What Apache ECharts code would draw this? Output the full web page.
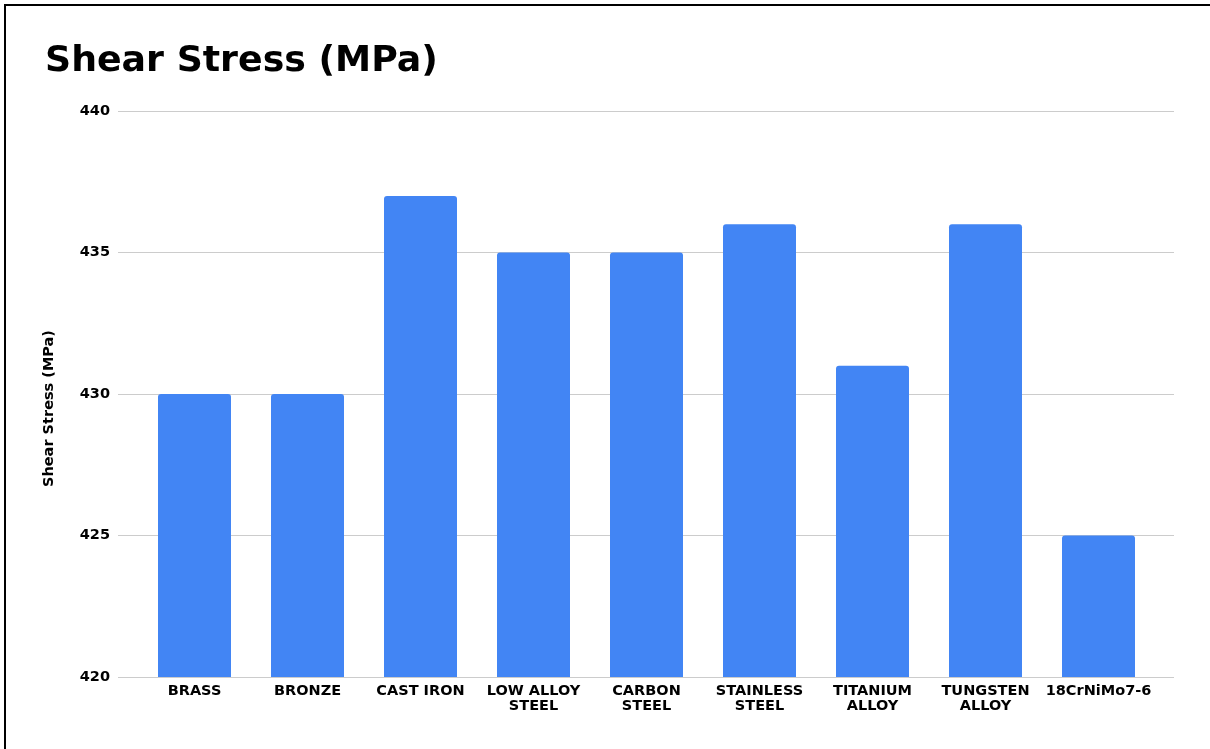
<!DOCTYPE html>
<html>
<head>
<meta charset="utf-8">
<script src="https://cdn.jsdelivr.net/npm/echarts@6/dist/echarts.min.js"></script>
<style>
  html, body { margin: 0; padding: 0; background: #fff; }
  #frame { position: absolute; left: 0; top: 0; width: 1210px; height: 749px; }
  #frame::before { content: ''; position: absolute; left: 4px; top: 4px; right: 0; height: 2px; background: #000; z-index: 2; }
  #frame::after { content: ''; position: absolute; left: 4px; top: 4px; bottom: 0; width: 2px; background: #000; z-index: 2; }
  #chart { position: absolute; left: 0; top: 0; width: 1210px; height: 749px; }
</style>
</head>
<body>
<div id="frame"><div id="chart"></div></div>
<script>
const categories = ['BRASS', 'BRONZE', 'CAST IRON', 'LOW ALLOY\nSTEEL', 'CARBON\nSTEEL', 'STAINLESS\nSTEEL', 'TITANIUM\nALLOY', 'TUNGSTEN\nALLOY', '18CrNiMo7-6'];
const shearStress = [430, 430, 437, 435, 435, 436, 431, 436, 425];
const yMin = 420;
const yMax = 440;
const yStep = 5;

const font = 'DejaVu Sans, Verdana, sans-serif';
const chart = echarts.init(document.getElementById('chart'), null, { renderer: 'canvas' });

chart.setOption({
  backgroundColor: '#ffffff',
  animation: false,
  title: {
    text: 'Shear Stress (MPa)',
    left: 40,
    top: 39,
    textStyle: { fontFamily: font, fontWeight: 'bold', fontSize: 36.3, color: '#000' }
  },
  grid: [
    { left: 118, right: 36, top: 111, bottom: 72 },
    { left: 138, right: 55, top: 111, bottom: 72 }
  ],
  xAxis: [
    { type: 'category', gridIndex: 0, data: categories, show: false },
    {
      type: 'category', gridIndex: 1, data: categories,
      axisLine: { show: false },
      axisTick: { show: false },
      axisLabel: {
        interval: 0, margin: 7, lineHeight: 15,
        fontFamily: font, fontWeight: 'bold', fontSize: 14.5, color: '#000'
      }
    }
  ],
  yAxis: [
    {
      type: 'value', gridIndex: 0, min: yMin, max: yMax, interval: yStep,
      name: 'Shear Stress (MPa)', nameLocation: 'middle', nameGap: 61,
      nameTextStyle: {
        fontFamily: font, fontWeight: 'bold', fontSize: 14.5, color: '#000',
        padding: [0, 29, 0, 0]
      },
      axisLine: { show: false },
      axisTick: { show: false },
      axisLabel: { margin: 8, fontFamily: font, fontWeight: 'bold', fontSize: 14.5, color: '#000' },
      splitLine: { lineStyle: { color: '#cccccc', width: 1 } }
    },
    {
      type: 'value', gridIndex: 1, min: yMin, max: yMax, interval: yStep,
      show: false, splitLine: { show: false }
    }
  ],
  series: [{
    type: 'bar',
    xAxisIndex: 1,
    yAxisIndex: 1,
    data: shearStress,
    barWidth: 73,
    itemStyle: { color: '#4285F4', borderRadius: [3, 3, 0, 0] }
  }]
});
</script>
</body>
</html>
